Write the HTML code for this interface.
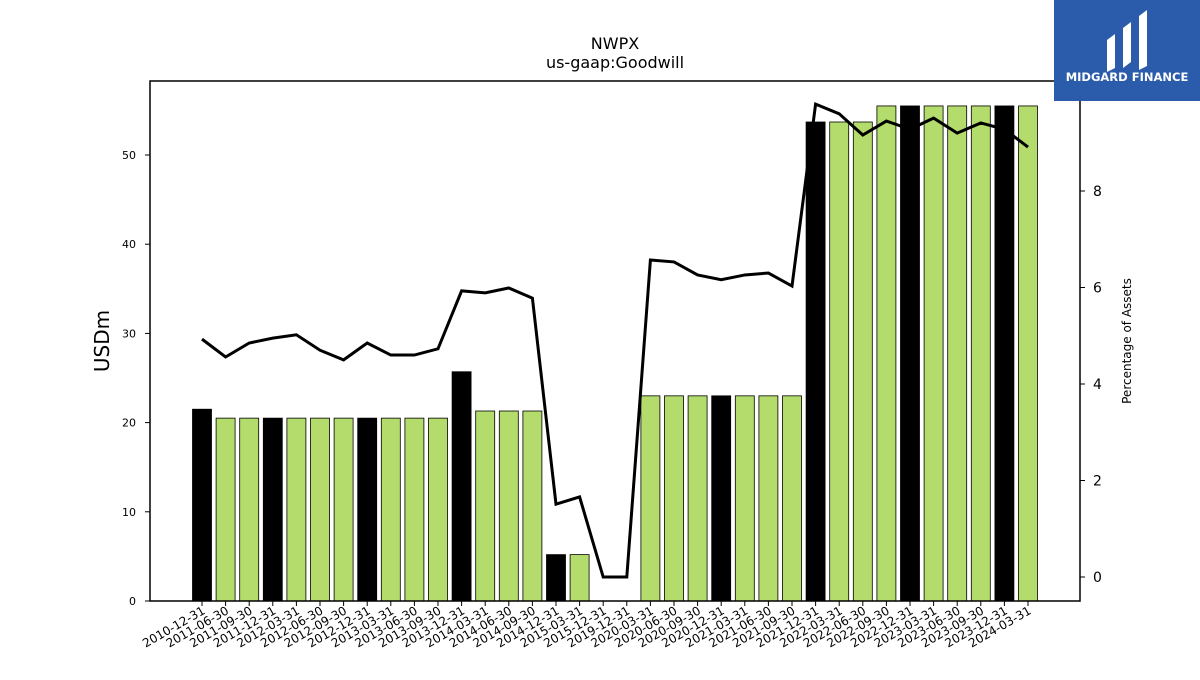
<!DOCTYPE html>
<html><head><meta charset="utf-8"><style>
body{margin:0;background:#fff;font-family:"Liberation Sans",sans-serif;}
svg text{font-family:"DejaVu Sans","Liberation Sans",sans-serif;}
</style></head><body>
<svg id="chart" width="1200" height="675" xmlns="http://www.w3.org/2000/svg">
<text x="615" y="49" font-size="16" text-anchor="middle">NWPX</text>
<text x="615" y="68" font-size="16" text-anchor="middle">us-gaap:Goodwill</text>
<g id="bars"></g><g id="line"></g><g id="axes"></g>
<rect x="150" y="81" width="930" height="520" fill="none" stroke="#000" stroke-width="1.5"/>
<text transform="translate(109,341) rotate(-90)" font-size="20" text-anchor="middle">USDm</text>
<text transform="translate(1131,341) rotate(-90)" font-size="12" text-anchor="middle">Percentage of Assets</text>
<g>
<rect x="1054" y="0" width="146" height="101" fill="#2b5cab"/>
<path d="M1107 40 L1115 34 L1115 68 L1107 72 Z M1123 28 L1131 22 L1131 62 L1123 68 Z M1139 16 L1147 10 L1147 66 L1139 70 Z" fill="#fff"/>
<text x="1127" y="81" font-size="11.5" font-weight="bold" fill="#fff" text-anchor="middle">MIDGARD FINANCE</text>
</g>
</svg>
<script>
const categories=["2010-12-31","2011-06-30","2011-09-30","2011-12-31","2012-03-31","2012-06-30","2012-09-30","2012-12-31","2013-03-31","2013-06-30","2013-09-30","2013-12-31","2014-03-31","2014-06-30","2014-09-30","2014-12-31","2015-03-31","2015-12-31","2019-12-31","2020-03-31","2020-06-30","2020-09-30","2020-12-31","2021-03-31","2021-06-30","2021-09-30","2021-12-31","2022-03-31","2022-06-30","2022-09-30","2022-12-31","2023-03-31","2023-06-30","2023-09-30","2023-12-31","2024-03-31"];
const goodwill=[21.5,20.5,20.5,20.5,20.5,20.5,20.5,20.5,20.5,20.5,20.5,25.7,21.3,21.3,21.3,5.2,5.2,0,0,23.0,23.0,23.0,23.0,23.0,23.0,23.0,53.7,53.7,53.7,55.5,55.5,55.5,55.5,55.5,55.5,55.5];
const pctAssets=[4.93,4.56,4.85,4.95,5.02,4.70,4.50,4.85,4.60,4.60,4.73,5.93,5.89,5.99,5.78,1.51,1.66,0,0,6.57,6.53,6.26,6.16,6.26,6.30,6.03,9.80,9.60,9.16,9.45,9.28,9.51,9.20,9.41,9.28,8.91];
const leftTicks=[0,10,20,30,40,50];
const rightTicks=[0,2,4,6,8];
const NS="http://www.w3.org/2000/svg";
const x=i=>202+i*(1028-202)/35;
const yL=v=>601-v*8.92;
const yR=v=>577-v*48.25;
function mk(t,a,p){const e=document.createElementNS(NS,t);for(const k in a)e.setAttribute(k,a[k]);p.appendChild(e);return e;}
const bars=document.getElementById('bars'),line=document.getElementById('line'),axes=document.getElementById('axes');
goodwill.forEach((v,i)=>{
 const dark=categories[i].endsWith("12-31");
 const r=mk('rect',{x:x(i)-9.5,y:yL(v),width:19,height:v*8.92,fill:dark?'#000':'#b3dc6c',stroke:'#000','stroke-width':0.8},bars);
 
 
 const t=mk('line',{x1:x(i),x2:x(i),y1:601,y2:606,stroke:'#000'},axes);
 const lb=mk('text',{transform:`translate(${x(i)+4},${613}) rotate(-30)`,'font-size':12,'text-anchor':'end'},axes);
 lb.textContent=categories[i];
 
 
});
const pl=mk('polyline',{points:pctAssets.map((v,i)=>x(i)+','+yR(v)).join(' '),fill:'none',stroke:'#000','stroke-width':3},line);


leftTicks.forEach(v=>{
 mk('line',{x1:145,x2:150,y1:yL(v),y2:yL(v),stroke:'#000'},axes);
 const t=mk('text',{x:136,y:yL(v)+4,'font-size':11,'text-anchor':'end'},axes);
 t.textContent=v;
 
 
});
rightTicks.forEach(v=>{
 mk('line',{x1:1080,x2:1085,y1:yR(v),y2:yR(v),stroke:'#000'},axes);
 const t=mk('text',{x:1093,y:yR(v)+5,'font-size':14},axes);
 t.textContent=v;
 
 
});
</script>
</body></html>
